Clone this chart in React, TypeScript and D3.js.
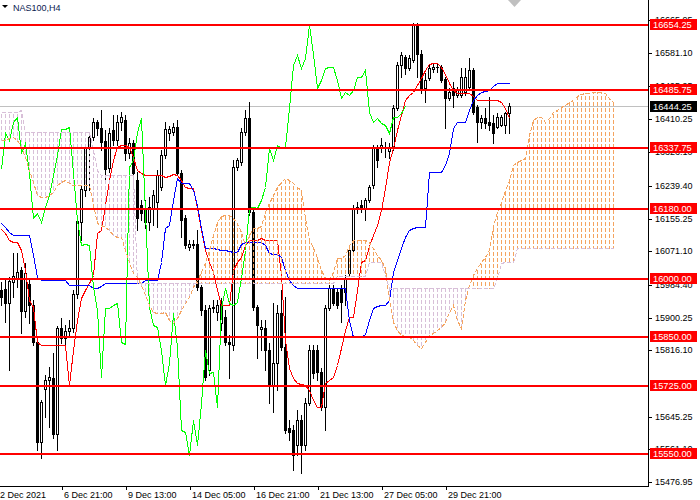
import React from 'react';
import * as d3 from 'd3';

const symbol = 'NAS100,H4';
const lastPrice = 16444.25;

// H4 candles, oldest first: [open, high, low, close]
const ohlc: [number, number, number, number][] = [
  [15971.5, 15992.2, 15932.9, 15953.5], [15974.1, 15997.3, 15889.2, 15938.1], [15938.1, 16005.0, 15765.6, 15994.7],
  [15992.2, 16066.8, 15953.5, 16007.6], [16002.4, 16066.8, 15979.3, 16017.9], [16023.0, 16030.8, 15860.9, 15917.5],
  [15917.5, 16041.1, 15902.1, 16015.3], [15987.0, 15997.3, 15886.6, 15932.9], [15932.9, 15945.8, 15829.9, 15837.7],
  [15837.7, 15848.0, 15559.7, 15580.3], [15580.3, 15688.4, 15539.1, 15683.3], [15716.7, 15752.7, 15644.7, 15739.9],
  [15739.9, 15773.4, 15618.9, 15747.6], [15745.0, 15809.4, 15590.6, 15600.9], [15600.9, 15878.9, 15559.7, 15873.7],
  [15873.7, 15899.5, 15835.1, 15848.0], [15848.0, 15881.4, 15829.9, 15866.0], [15866.0, 15894.3, 15853.2, 15873.7],
  [15873.7, 15971.5, 15863.5, 15961.2], [15961.2, 16156.9, 15950.9, 16149.1], [16146.6, 16241.8, 16100.2, 16231.5],
  [16228.9, 16344.7, 16213.5, 16337.0], [16337.0, 16375.7, 16228.9, 16365.4], [16365.4, 16414.3, 16357.6, 16404.0],
  [16404.0, 16409.1, 16370.5, 16388.5], [16388.5, 16434.9, 16331.9, 16352.5], [16355.0, 16383.4, 16247.0, 16283.0],
  [16285.6, 16388.5, 16275.3, 16375.7], [16383.4, 16422.0, 16344.7, 16357.6], [16357.6, 16422.0, 16344.7, 16404.0],
  [16404.0, 16429.8, 16383.4, 16416.9], [16409.1, 16422.0, 16306.2, 16324.2], [16324.2, 16362.8, 16311.3, 16349.9],
  [16349.9, 16357.6, 16241.8, 16272.7], [16254.7, 16275.3, 16126.0, 16156.9], [16190.3, 16203.2, 16151.7, 16169.8],
  [16177.5, 16203.2, 16131.1, 16146.6], [16146.6, 16210.9, 16126.0, 16185.2], [16182.6, 16228.9, 16138.8, 16216.0],
  [16198.1, 16280.4, 16133.7, 16267.5], [16236.7, 16331.9, 16228.9, 16319.0], [16319.0, 16404.0, 16311.3, 16385.9],
  [16375.7, 16393.7, 16357.6, 16385.9], [16378.3, 16401.4, 16370.5, 16391.1], [16391.1, 16409.1, 16267.5, 16272.7],
  [16272.7, 16280.4, 16108.0, 16151.7], [16156.9, 16164.6, 16079.6, 16087.3], [16082.2, 16100.2, 16074.5, 16089.9],
  [16089.9, 16100.2, 16079.6, 16087.3], [16089.9, 16126.0, 15971.5, 15979.3], [15979.3, 15984.4, 15907.2, 15920.1],
  [15920.1, 15932.9, 15739.9, 15747.6], [15765.6, 15932.9, 15752.7, 15925.2], [15927.8, 15945.8, 15915.0, 15925.2],
  [15915.0, 15945.8, 15894.3, 15932.9], [15886.6, 15950.9, 15868.6, 15938.1], [15902.1, 15920.1, 15829.9, 15837.7],
  [15837.7, 15855.7, 15745.0, 15832.5], [15829.9, 16306.2, 15817.1, 16288.2], [16288.2, 16311.3, 16280.4, 16306.2],
  [16301.1, 16388.5, 16293.3, 16378.3], [16378.3, 16434.9, 16370.5, 16414.3], [16414.3, 16455.5, 16164.6, 16172.4],
  [16172.4, 16177.5, 15920.1, 15927.8], [15927.8, 15932.9, 15796.5, 15881.4], [15871.1, 15894.3, 15817.1, 15876.3],
  [15873.7, 15894.3, 15765.6, 15817.1], [15817.1, 15835.1, 15680.7, 15727.0], [15727.0, 15938.1, 15657.6, 15783.7],
  [15783.7, 15932.9, 15714.1, 15912.4], [15912.4, 15971.5, 15817.1, 15824.8], [15824.8, 15953.5, 15603.5, 15611.2],
  [15616.3, 15636.9, 15585.4, 15606.1], [15611.2, 15624.0, 15508.2, 15546.8], [15572.5, 15662.7, 15546.8, 15636.9],
  [15636.9, 15649.8, 15500.5, 15572.5], [15572.5, 15693.5, 15559.7, 15680.7], [15680.7, 15829.9, 15675.5, 15817.1],
  [15817.1, 15829.9, 15745.0, 15757.9], [15817.1, 15829.9, 15739.9, 15760.5], [15760.5, 15770.8, 15662.7, 15670.4],
  [15670.4, 15932.9, 15611.2, 15925.2], [15925.2, 15984.4, 15920.1, 15976.7], [15976.7, 15984.4, 15932.9, 15938.1],
  [15966.4, 15976.7, 15925.2, 15932.9], [15974.1, 15984.4, 15889.2, 15940.7], [15966.4, 16010.1, 15932.9, 16002.4],
  [16015.3, 16079.6, 16010.1, 16074.5], [16074.5, 16190.3, 16069.4, 16182.6], [16185.2, 16198.1, 16169.8, 16183.9],
  [16190.3, 16203.2, 16172.4, 16182.6], [16182.6, 16208.3, 16151.7, 16203.2], [16203.2, 16241.8, 16198.1, 16236.7],
  [16241.8, 16344.7, 16234.1, 16337.0], [16337.0, 16344.7, 16288.2, 16306.2], [16337.0, 16362.8, 16326.8, 16344.7],
  [16337.0, 16352.5, 16313.9, 16335.7], [16329.3, 16349.9, 16311.3, 16339.6], [16339.6, 16447.7, 16331.9, 16440.0],
  [16440.0, 16558.5, 16434.9, 16550.7], [16550.7, 16584.2, 16519.8, 16576.4], [16571.3, 16576.4, 16527.5, 16543.0],
  [16543.0, 16576.4, 16537.8, 16568.7], [16563.6, 16658.8, 16558.5, 16653.6], [16653.6, 16658.8, 16519.8, 16579.0],
  [16579.0, 16589.3, 16478.6, 16491.5], [16491.5, 16530.1, 16455.5, 16512.1], [16517.2, 16550.7, 16512.1, 16543.0],
  [16540.4, 16553.3, 16532.7, 16545.6], [16545.6, 16555.9, 16532.7, 16544.3], [16545.6, 16550.7, 16507.0, 16512.1],
  [16514.6, 16519.8, 16388.5, 16465.7], [16465.7, 16491.5, 16460.6, 16481.2], [16491.5, 16507.0, 16442.6, 16473.4],
  [16473.4, 16494.1, 16468.3, 16486.3], [16473.4, 16543.0, 16468.3, 16519.8], [16481.2, 16543.0, 16473.4, 16519.8],
  [16494.1, 16568.7, 16486.3, 16537.8], [16537.8, 16543.0, 16424.6, 16429.8], [16442.6, 16447.7, 16352.5, 16404.0],
  [16404.0, 16422.0, 16388.5, 16414.3], [16414.3, 16440.0, 16388.5, 16401.4], [16404.0, 16468.3, 16383.4, 16396.2],
  [16401.4, 16422.0, 16349.9, 16375.7], [16391.1, 16427.2, 16388.5, 16416.9], [16396.2, 16422.0, 16393.7, 16416.9],
  [16396.2, 16429.8, 16375.7, 16427.2], [16427.2, 16452.9, 16375.7, 16444.25],
];

// Ichimoku lines, one value per bar
const tenkan = [
  16128.5, 16118.3, 16100.2, 16095.1, 16095.1, 16074.5, 16023.0, 15945.8, 15927.8, 15837.7,
  15829.9, 15829.9, 15829.9, 15829.9, 15829.9, 15829.9, 15829.9, 15727.0, 15817.1, 15894.3,
  15950.9, 15971.5, 15989.6, 16010.1, 16118.3, 16126.0, 16190.3, 16254.7, 16306.2, 16339.6,
  16344.7, 16344.7, 16339.6, 16313.9, 16280.4, 16272.7, 16267.5, 16267.5, 16267.5, 16267.5,
  16267.5, 16262.4, 16265.0, 16270.1, 16267.5, 16254.7, 16236.7, 16234.1, 16234.1, 16182.6,
  16126.0, 16074.5, 16043.7, 16017.9, 15971.5, 15932.9, 15932.9, 15932.9, 16023.0, 16043.7,
  16056.5, 16087.3, 16100.2, 16100.2, 16100.2, 16105.4, 16100.2, 16100.2, 16100.2, 16100.2,
  16010.1, 15842.8, 15770.8, 15745.0, 15732.2, 15729.6, 15727.0, 15714.1, 15688.4, 15670.4,
  15670.4, 15732.2, 15739.9, 15747.6, 15778.5, 15822.5, 15868.6, 15902.1, 15902.1, 15971.5,
  16043.7, 16048.8, 16084.7, 16113.1, 16138.8, 16177.5, 16234.1, 16301.1, 16337.0, 16383.4,
  16422.0, 16460.6, 16473.4, 16481.2, 16499.2, 16517.2, 16537.8, 16553.3, 16555.9, 16555.9,
  16545.6, 16527.5, 16504.4, 16486.3, 16478.6, 16478.6, 16478.6, 16478.6, 16470.9, 16460.6,
  16460.6, 16460.6, 16460.6, 16460.6, 16460.6, 16455.5, 16440.0, 16414.3,
];

const kijun = [
  16144.0, 16133.7, 16120.9, 16113.1, 16113.1, 16113.1, 16113.1, 16113.1, 16061.6, 16005.0,
  15997.3, 15997.3, 15997.3, 15997.3, 15997.3, 15997.3, 15997.3, 15984.4, 15984.4, 15984.4,
  15984.4, 15984.4, 15984.4, 15976.7, 15976.7, 15981.9, 15989.6, 15989.6, 15989.6, 15989.6,
  15989.6, 15989.6, 15989.6, 15989.6, 15989.6, 15989.6, 15997.3, 15997.3, 15997.3, 15997.3,
  16043.7, 16131.1, 16138.8, 16203.2, 16259.8, 16247.0, 16247.0, 16247.0, 16228.9, 16190.3,
  16131.1, 16079.6, 16079.6, 16079.6, 16077.0, 16074.5, 16074.5, 16071.9, 16069.4, 16069.4,
  16089.9, 16095.1, 16095.1, 16095.1, 16095.1, 16095.1, 16087.3, 16066.8, 16064.2, 16064.2,
  16056.5, 16023.0, 15997.3, 15984.4, 15976.7, 15976.7, 15976.7, 15976.7, 15976.7, 15976.7,
  15976.7, 15976.7, 15976.7, 15976.7, 15976.7, 15976.7, 15976.7, 15894.3, 15850.6, 15850.6,
  15850.6, 15858.3, 15894.3, 15925.2, 15930.3, 15932.9, 15932.9, 15945.8, 16017.9, 16048.8,
  16079.6, 16108.0, 16126.0, 16131.1, 16133.7, 16133.7, 16133.7, 16275.3, 16275.3, 16275.3,
  16275.3, 16293.3, 16324.2, 16388.5, 16404.0, 16404.0, 16404.0, 16434.9, 16460.6, 16473.4,
  16481.2, 16483.7, 16486.3, 16496.6, 16504.4, 16504.4, 16504.4, 16504.4,
];

// cloud spans, already shifted 26 bars ahead
const senkouA = [
  16357.6, 16357.6, 16362.8, 16365.4, 16357.6, 16339.6, 16313.9, 16280.4, 16249.6, 16216.0,
  16210.9, 16210.9, 16216.0, 16223.8, 16241.8, 16249.6, 16254.7, 16247.0, 16241.8, 16241.8,
  16241.8, 16241.8, 16241.8, 16190.3, 16144.0, 16138.8, 16133.7, 16126.0, 16113.1, 16108.0,
  16108.0, 16074.5, 16043.7, 16015.3, 16005.0, 15984.4, 15958.6, 15932.9, 15915.0, 15912.4,
  15912.4, 15915.0, 15894.3, 15886.6, 15899.5, 15920.1, 15938.1, 15953.5, 15979.3, 15997.3,
  16017.9, 16043.7, 16074.5, 16113.1, 16146.6, 16162.1, 16164.6, 16164.6, 16156.9, 16144.0,
  16120.9, 16087.3, 16113.1, 16131.1, 16131.1, 16136.3, 16172.4, 16195.5, 16216.0, 16236.7,
  16249.6, 16259.8, 16254.7, 16247.0, 16236.7, 16228.9, 16156.9, 16100.2, 16082.2, 16053.9,
  16023.0, 16002.4, 15997.3, 16017.9, 16053.9, 16053.9, 16061.6, 16087.3, 16100.2, 16100.2,
  16100.2, 16100.2, 16095.1, 16079.6, 16061.6, 16048.8, 16028.2, 15945.8, 15889.2, 15868.6,
  15855.7, 15853.2, 15850.6, 15842.8, 15829.9, 15822.2, 15837.7, 15855.7, 15860.9, 15868.6,
  15876.3, 15889.2, 15915.0, 15932.9, 15894.3, 15873.7, 15945.8, 15984.4, 16010.1, 16028.2,
  16043.7, 16056.5, 16074.5, 16138.8, 16172.4, 16198.1, 16228.9, 16254.7, 16293.3, 16301.1,
  16306.2, 16311.3, 16370.5, 16409.1, 16416.9, 16416.9, 16404.0, 16414.3, 16429.8, 16434.9,
  16442.6, 16447.7, 16455.5, 16460.6, 16470.9, 16476.0, 16478.6, 16478.6, 16481.2, 16481.2,
  16481.2, 16478.6, 16465.7, 16455.5,
];

const senkouB = [
  16429.8, 16429.8, 16429.8, 16429.8, 16429.8, 16434.9, 16378.3, 16378.3, 16378.3, 16378.3,
  16378.3, 16378.3, 16378.3, 16378.3, 16378.3, 16378.3, 16378.3, 16378.3, 16378.3, 16378.3,
  16378.3, 16378.3, 16378.3, 16331.9, 16280.4, 16267.5, 16267.5, 16267.5, 16267.5, 16267.5,
  16267.5, 16267.5, 16267.5, 16267.5, 15989.6, 15989.6, 15989.6, 15989.6, 15989.6, 15989.6,
  15989.6, 15989.6, 15989.6, 15989.6, 15989.6, 15989.6, 15989.6, 15989.6, 15989.6, 15989.6,
  15989.6, 15989.6, 15989.6, 15989.6, 15989.6, 15989.6, 15989.6, 15989.6, 15989.6, 15989.6,
  15989.6, 15989.6, 15989.6, 15989.6, 15989.6, 15989.6, 15989.6, 15989.6, 15989.6, 15989.6,
  15989.6, 15989.6, 15989.6, 15989.6, 15989.6, 15989.6, 15989.6, 15989.6, 15989.6, 15989.6,
  15989.6, 15989.6, 15989.6, 15989.6, 16007.6, 16007.6, 16007.6, 16007.6, 16007.6, 16007.6,
  16007.6, 16007.6, 16043.7, 16043.7, 16043.7, 16043.7, 16010.1, 15976.7, 15976.7, 15976.7,
  15976.7, 15976.7, 15976.7, 15976.7, 15976.7, 15976.7, 15976.7, 15976.7, 15976.7, 15976.7,
  15976.7, 15976.7, 15976.7, 15976.7, 15976.7, 15976.7, 15976.7, 15976.7, 15976.7, 15976.7,
  15976.7, 15976.7, 15976.7, 15976.7, 16002.4, 16041.1, 16043.7, 16043.7, 16043.7, 16079.6,
  16079.6, 16079.6, 16079.6, 16079.6, 16079.6, 16079.6, 16079.6, 16079.6, 16079.6, 16079.6,
  16079.6, 16079.6, 16079.6, 16079.6, 16079.6, 16079.6, 16079.6, 16079.6, 16079.6, 16079.6,
  16079.6, 16079.6, 16079.6, 16079.6,
];

const chikouShift = 26;

// horizontal levels drawn on the chart
const levels = [16654.25, 16485.75, 16337.75, 16180.0, 16000.0, 15850.0, 15725.0, 15550.0];

// right scale labels
const priceTicks = [16665.95, 16581.10, 16495.95, 16410.25, 16326.10, 16239.40, 16155.25, 16071.10,
  15984.40, 15900.25, 15816.10, 15645.25, 15561.10, 15476.95];

// bottom scale: bar index and text
const timeTickBars = [-1, 15, 31, 47, 63, 79, 95, 111];
const timeTickLabels = ['2 Dec 2021', '6 Dec 21:00', '9 Dec 13:00', '14 Dec 05:00', '16 Dec 21:00',
  '21 Dec 13:00', '27 Dec 05:00', '29 Dec 21:00'];

const FONT = "'Liberation Sans', Arial, sans-serif";
const ORANGE = '#F4A460';
const THISTLE = '#D8BFD8';

export default function App() {
  const plotW = 648;
  const plotH = 486;

  const x = d3.scaleLinear().domain([0, 160]).range([1.5, 641.5]);
  const y = d3.scaleLinear().domain([15466.9, 16717.8]).range([plotH, 0]);
  const row = (p: number) => Math.round(y(p));

  const path = (vals: number[], offset = 0) =>
    d3.line<number>()
      .x((_, i) => x(i + offset))
      .y(d => row(d) + 0.5)(vals) || '';

  const closes = ohlc.map(d => d[3]);
  const chikou = closes.slice(chikouShift);

  // dotted histogram between the spans: 4px dash, 2px gap, aligned on screen rows
  const hatch: { x: number; y: number; h: number; c: string }[] = [];
  senkouA.forEach((a, i) => {
    const b = senkouB[i];
    const t = row(Math.max(a, b));
    const bt = row(Math.min(a, b)) + 1;
    const c = a > b ? ORANGE : THISTLE;
    for (let s = Math.floor(t / 6) * 6; s < bt; s += 6) {
      const y0 = Math.max(s, t);
      const y1 = Math.min(s + 4, bt);
      if (y1 > y0) hatch.push({ x: Math.floor(x(i)), y: y0, h: y1 - y0, c });
    }
  });

  const fmt = d3.format('.2f');

  return (
    <svg width={700} height={500} style={{ position: 'fixed', left: 0, top: 0, background: '#fff' }}
      fontFamily={FONT}>
      <rect x={0} y={0} width={700} height={500} fill="#fff" />

      {/* bid line */}
      <line x1={0} x2={plotW} y1={row(lastPrice) + 0.5} y2={row(lastPrice) + 0.5} stroke="#C0C0C0" />

      {/* candles */}
      <g shapeRendering="crispEdges">
        {ohlc.map(([o, h, l, c], i) => {
          const cx = x(i);
          const top = row(Math.max(o, c));
          const bot = row(Math.min(o, c));
          return (
            <g key={i}>
              <line x1={cx} x2={cx} y1={row(h)} y2={row(l) + 1} stroke="#000" />
              {bot - top < 1
                ? <line x1={cx - 1.5} x2={cx + 1.5} y1={top + 0.5} y2={top + 0.5} stroke="#000" />
                : c > o
                  ? <rect x={cx - 1} y={top + 0.5} width={2} height={bot - top} fill="#fff" stroke="#000" />
                  : <rect x={cx - 1.5} y={top} width={3} height={bot - top + 1} fill="#000" />}
            </g>
          );
        })}
      </g>

      <g fill="none" shapeRendering="crispEdges">
        <path d={path(tenkan)} stroke="#FF0000" />
        <path d={path(kijun)} stroke="#0000FF" />
      </g>

      {/* cloud hatch */}
      <g shapeRendering="crispEdges">
        {hatch.map((d, k) => (
          <rect key={k} x={d.x} y={d.y} width={1} height={d.h} fill={d.c} />
        ))}
      </g>

      <g fill="none" shapeRendering="crispEdges">
        <path d={path(chikou)} stroke="#00FF00" />
        <path d={path(senkouA)} stroke={ORANGE} strokeDasharray="4,2" />
        <path d={path(senkouB)} stroke={THISTLE} strokeDasharray="4,2" />
      </g>

      {/* level lines */}
      <g shapeRendering="crispEdges">
        {levels.map(v => (
          <rect key={v} x={0} y={row(v) - 1} width={plotW} height={2} fill="#FF0000" />
        ))}
      </g>

      {/* chart shift marker */}
      <polygon points="508,0 521,0 514.5,7" fill="#C0C0C0" />

      {/* title */}
      <polygon points="2,5 8,5 5,8" fill="#000" />
      <text x={13} y={11} fontSize={9} fill="#0a1a50">{symbol}</text>

      {/* axes */}
      <g shapeRendering="crispEdges" stroke="#000">
        <line x1={plotW + 0.5} x2={plotW + 0.5} y1={0} y2={plotH + 1} />
        <line x1={0} x2={plotW + 1} y1={plotH + 0.5} y2={plotH + 0.5} />
        {priceTicks.map(v => (
          <line key={v} x1={plotW} x2={plotW + 4} y1={row(v) + 0.5} y2={row(v) + 0.5} />
        ))}
        {timeTickBars.map(b => (
          <line key={b} x1={Math.round(x(b)) + 0.5} x2={Math.round(x(b)) + 0.5} y1={plotH} y2={plotH + 4} />
        ))}
      </g>

      <g fontSize={9} fill="#000">
        {priceTicks.map(v => (
          <text key={v} x={655} y={row(v) + 3}>{fmt(v)}</text>
        ))}
        {timeTickBars.map((b, i) => (
          <text key={b} x={Math.round(x(b)) + 2} y={498}>{timeTickLabels[i]}</text>
        ))}
      </g>

      {/* level labels */}
      <g shapeRendering="crispEdges">
        {levels.map(v => (
          <g key={v}>
            <rect x={650} y={row(v) - 6} width={47} height={11} fill="#FF0000" />
            <text x={653} y={row(v) + 3} fontSize={9.3} fill="#fff">{fmt(v)}</text>
          </g>
        ))}
        <rect x={650} y={row(lastPrice) - 5} width={47} height={11} fill="#000" />
        <text x={653} y={row(lastPrice) + 4} fontSize={9.3} fill="#fff">{fmt(lastPrice)}</text>
      </g>
    </svg>
  );
}
